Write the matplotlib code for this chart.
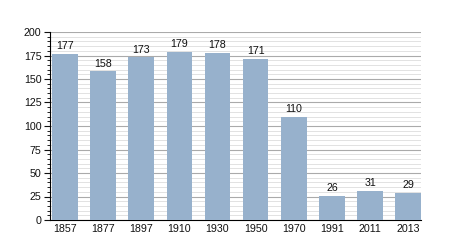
import matplotlib.pyplot as plt
from matplotlib.ticker import MultipleLocator

plt.rcParams['font.family'] = ['Liberation Sans', 'DejaVu Sans']

years = ['1857', '1877', '1897', '1910', '1930', '1950', '1970', '1991', '2011', '2013']
population = [177, 158, 173, 179, 178, 171, 110, 26, 31, 29]

fig = plt.figure(figsize=(4.5, 2.5), dpi=100)
ax = fig.add_axes([0.111, 0.12, 0.825, 0.752])

x = range(len(years))
bars = ax.bar(x, population, width=0.67, color='#97b1cc', zorder=3)
for b, v in zip(bars, population):
    ax.text(b.get_x() + b.get_width() / 2, v + 3, str(v), ha='center', va='bottom',
            fontsize=7.7, color='#111111', zorder=4)

ax.set_xlim(-0.39, len(years) - 0.66)
ax.set_ylim(0, 200)
ax.set_xticks(list(x))
ax.set_xticklabels(years)
ax.yaxis.set_major_locator(MultipleLocator(25))
ax.yaxis.set_minor_locator(MultipleLocator(5))
ax.grid(axis='y', which='major', color='#aaaaaa', linewidth=0.8, zorder=1)
ax.grid(axis='y', which='minor', color='#dddddd', linewidth=0.6, zorder=1)
ax.tick_params(axis='both', labelsize=7.7, colors='#111111')
ax.tick_params(axis='x', length=0, pad=3)
ax.tick_params(axis='y', which='major', length=4, width=0.8, pad=2)
ax.tick_params(axis='y', which='minor', length=2, width=0.6)
for s in ['top', 'right']:
    ax.spines[s].set_visible(False)
ax.spines['left'].set_linewidth(0.8)
ax.spines['bottom'].set_linewidth(0.8)

fig.savefig('out.png', dpi=100)
